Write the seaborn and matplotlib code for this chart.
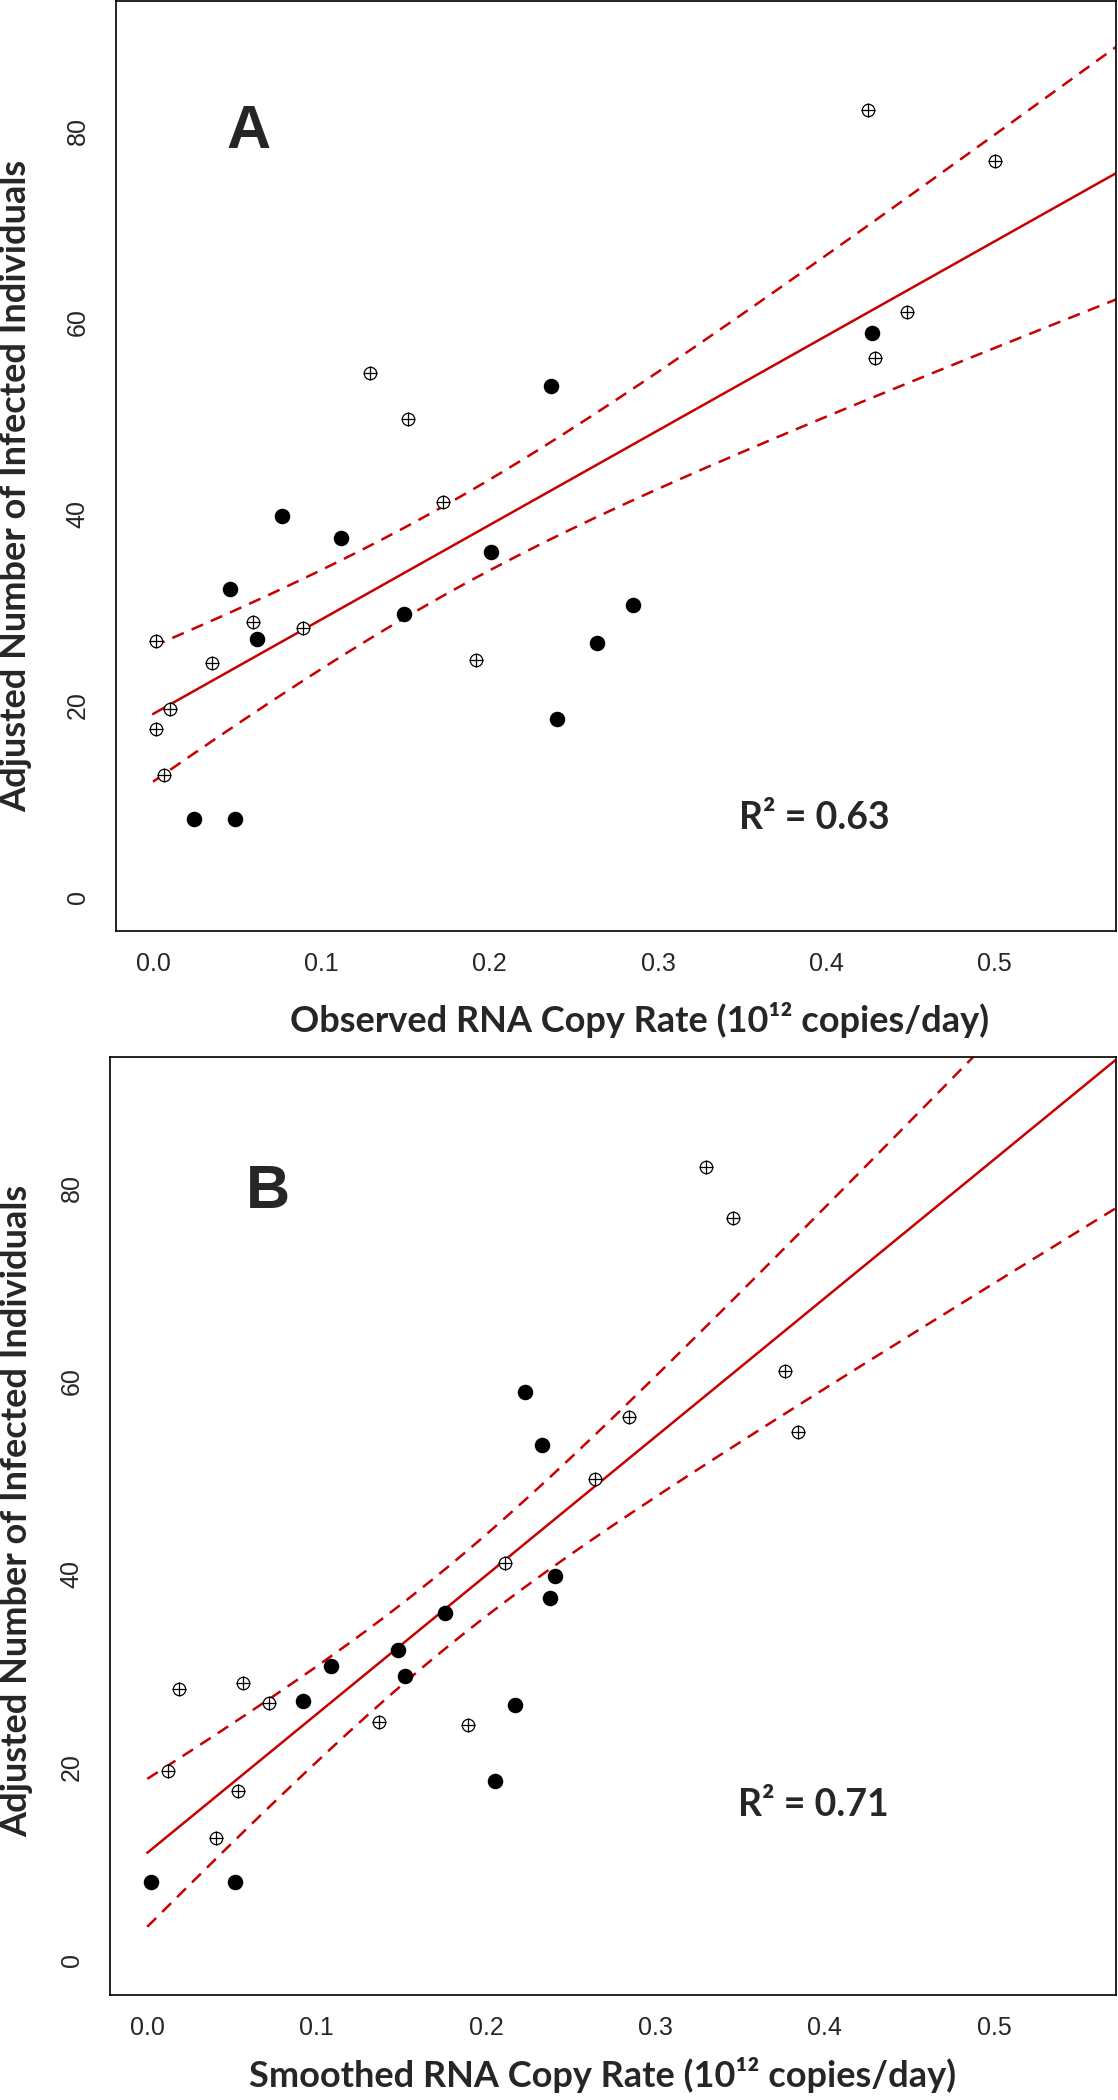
import numpy as np
import seaborn as sns
import matplotlib.pyplot as plt

# shared outcome values (adjusted number of infected individuals)
y_open = [82.2, 76.9, 61.1, 56.3, 54.7, 49.9, 41.2, 28.7, 28.1, 26.7, 24.7, 24.4, 19.6, 17.5, 12.7]
y_filled = [58.9, 53.4, 39.8, 37.5, 36.0, 32.1, 30.5, 29.5, 26.9, 26.5, 18.6, 8.07, 8.07]

# panel A: observed RNA copy rate
xa_open = [0.4248, 0.500, 0.4478, 0.429, 0.1287, 0.1517, 0.172, 0.0595, 0.0888, 0.0017, 0.1916, 0.0353, 0.0102, 0.0017, 0.0064]
xa_filled = [0.427, 0.2362, 0.0769, 0.1117, 0.2005, 0.0455, 0.285, 0.1491, 0.0616, 0.2638, 0.240, 0.0246, 0.0489]

# panel B: smoothed RNA copy rate
xb_open = [0.330, 0.3456, 0.3764, 0.2844, 0.3844, 0.2641, 0.2114, 0.0565, 0.019, 0.0717, 0.1367, 0.1895, 0.0122, 0.0536, 0.0405]
xb_filled = [0.2228, 0.2329, 0.2409, 0.2376, 0.176, 0.1481, 0.1084, 0.1519, 0.092, 0.2173, 0.2055, 0.0021, 0.0519]

x_ticks = [0.0, 0.1, 0.2, 0.3, 0.4, 0.5]
y_ticks = [0, 20, 40, 60, 80]

RED = "#C80000"
LABEL_FONT = "Lato"
TICK_FONT = "Liberation Sans"


def fit_with_band(x, y, grid, t=2.0555):
    x = np.asarray(x)
    y = np.asarray(y)
    n = len(x)
    b, a = np.polyfit(x, y, 1)
    resid = y - (a + b * x)
    s = np.sqrt(np.sum(resid ** 2) / (n - 2))
    sxx = np.sum((x - x.mean()) ** 2)
    fit = a + b * grid
    se = s * np.sqrt(1.0 / n + (grid - x.mean()) ** 2 / sxx)
    return fit, fit - t * se, fit + t * se


def draw_panel(ax, x_open, x_filled, letter, r2, xlabel, letter_pos, r2_pos, xlab_coords, ylab_coords):
    x_all = np.array(x_open + x_filled)
    y_all = np.array(y_open + y_filled)
    grid = np.linspace(0, 0.6, 200)
    fit, lo, hi = fit_with_band(x_all, y_all, grid)

    sns.lineplot(x=grid, y=fit, ax=ax, color=RED, lw=1.8, sort=False)
    for band in (lo, hi):
        sns.lineplot(x=grid, y=band, ax=ax, color=RED, lw=1.8, sort=False,
                     dashes=False).lines[-1].set_dashes((5, 3.4))

    sns.scatterplot(x=x_filled, y=y_filled, ax=ax, color="black", s=125,
                    linewidth=0, zorder=5)
    sns.scatterplot(x=x_open, y=y_open, ax=ax, marker="o", s=80,
                    facecolor="white", edgecolor="black", linewidth=0.9, zorder=6)
    sns.scatterplot(x=x_open, y=y_open, ax=ax, marker="+", s=90,
                    color="black", linewidth=0.9, zorder=7)

    ax.set_xlim(-0.022, 0.572)
    ax.set_ylim(-3.6, 93.6)
    ax.set_xticks(x_ticks)
    ax.set_xticklabels([f"{v:.1f}" for v in x_ticks], fontsize=18, family=TICK_FONT)
    ax.set_yticks(y_ticks)
    ax.set_yticklabels([str(v) for v in y_ticks], fontsize=18, family=TICK_FONT,
                       rotation=90, va="center")
    ax.tick_params(axis="x", length=9, width=1.1, pad=6, direction="out")
    ax.tick_params(axis="y", length=9, width=1.1, pad=10, direction="out")
    for sp in ax.spines.values():
        sp.set_visible(True)
        sp.set_linewidth(1.2)
        sp.set_color("black")

    ax.set_xlabel(xlabel, fontsize=26, family=LABEL_FONT, fontweight="bold")
    ax.set_ylabel("Adjusted Number of Infected Individuals", fontsize=26,
                  family=LABEL_FONT, fontweight="bold")
    ax.xaxis.set_label_coords(*xlab_coords)
    ax.xaxis.label.set_va("center")
    ax.yaxis.set_label_coords(*ylab_coords)
    ax.yaxis.label.set_va("center")

    ax.text(letter_pos[0], letter_pos[1], letter, fontsize=44, fontweight="bold",
            family="Liberation Sans", ha="center", va="baseline")
    ax.text(r2_pos[0], r2_pos[1], r2, fontsize=27, fontweight="bold",
            family=LABEL_FONT, ha="left", va="baseline")


sns.set_theme(style="white")
plt.rcParams["font.family"] = ["Lato", "DejaVu Sans"]

fig = plt.figure(figsize=(11.18, 21), dpi=100)
ax_a = fig.add_axes([116 / 1118, 1 - 931 / 2100, 1000 / 1118, 930 / 2100])
ax_b = fig.add_axes([110 / 1118, 1 - 1995 / 2100, 1006 / 1118, 938 / 2100])

draw_panel(ax_a, xa_open, xa_filled, "A", "R² = 0.63",
           "Observed RNA Copy Rate (10¹² copies/day)",
           (0.057, 78.2), (0.348, 7.1), (0.524, -0.096), (-0.100, 0.479))
draw_panel(ax_b, xb_open, xb_filled, "B", "R² = 0.71",
           "Smoothed RNA Copy Rate (10¹² copies/day)",
           (0.071, 78.0), (0.349, 14.9), (0.49, -0.085), (-0.093, 0.516))

fig.savefig("out.png", dpi=100, facecolor="white")
